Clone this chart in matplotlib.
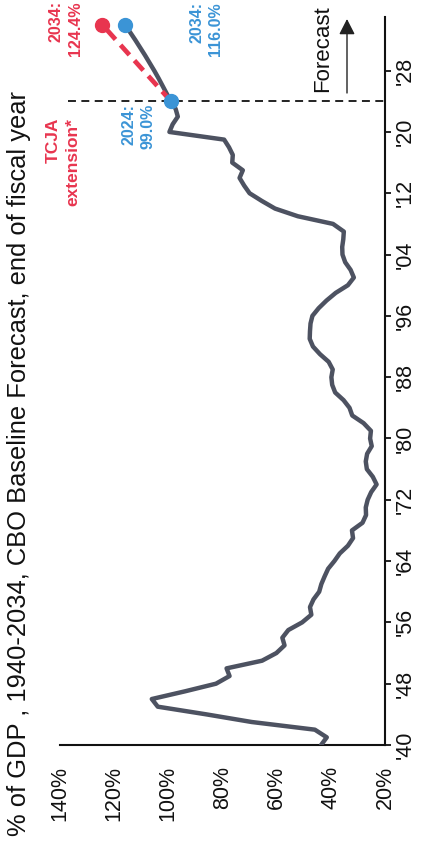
import matplotlib
matplotlib.use("Agg")
import matplotlib.pyplot as plt

# Federal debt held by the public, % of GDP, end of fiscal year
years = list(range(1940, 2025))
debt = [43.6, 41.5, 45.9, 69.2, 86.0, 103.9, 106.1, 93.9, 82.4, 77.4,
        78.5, 65.4, 60.1, 57.1, 57.9, 55.7, 50.6, 47.2, 47.7, 46.4,
        44.3, 43.5, 42.3, 41.0, 38.7, 36.7, 33.7, 31.8, 32.2, 28.3,
        27.0, 27.1, 26.4, 25.1, 23.1, 24.5, 26.7, 27.1, 26.6, 24.9,
        25.5, 25.2, 27.9, 32.1, 33.1, 35.3, 38.4, 39.5, 39.8, 39.3,
        40.8, 44.0, 46.6, 47.8, 47.7, 47.5, 46.8, 44.5, 41.6, 38.2,
        33.7, 31.5, 32.7, 34.7, 35.7, 35.8, 35.4, 35.2, 39.2, 52.2,
        60.6, 65.5, 70.0, 72.0, 73.7, 72.5, 76.4, 76.2, 77.6, 79.4,
        99.6, 98.4, 96.5, 97.3, 99.0]

# CBO baseline forecast
fc_years = list(range(2024, 2035))
fc_baseline = [99.0, 100.6, 102.1, 103.6, 105.2, 106.9, 108.6, 110.4, 112.2, 114.1, 116.0]

# TCJA extension scenario
tcja_years = [2024, 2034]
tcja_debt = [99.0, 124.4]

value_ticks = [140, 120, 100, 80, 60, 40, 20]
value_labels = ["140%", "120%", "100%", "80%", "60%", "40%", "20%"]
year_ticks = list(range(1940, 2029, 8))
year_labels = ["'40", "'48", "'56", "'64", "'72", "'80", "'88", "'96", "'04", "'12", "'20", "'28"]

title = "% of GDP , 1940-2034, CBO Baseline Forecast, end of fiscal year"

GRAY = "#4d5261"
RED = "#e8354f"
BLUE = "#3b94d6"

plt.rcParams["font.family"] = ["Liberation Sans", "DejaVu Sans"]

W, H = 428, 844
fig = plt.figure(figsize=(W / 100, H / 100), dpi=100)
fig.patch.set_facecolor("white")

# axes laid out sideways: value runs right-to-left, years run upward
ax_l, ax_r, ax_b, ax_t = 60, 385, 745, 17
ax = fig.add_axes([ax_l / W, 1 - ax_b / H, (ax_r - ax_l) / W, (ax_b - ax_t) / H])
ax.set_xlim(140, 20)
ax.set_ylim(1940, 2035)
ax.set_facecolor("none")


def vx(px):
    return 140 - (px - ax_l) * 120 / (ax_r - ax_l)


def yy(py):
    return 1940 + (ax_b - py) * 95 / (ax_b - ax_t)


for s in ("top", "left"):
    ax.spines[s].set_visible(False)
for s in ("right", "bottom"):
    ax.spines[s].set_linewidth(1.5)
    ax.spines[s].set_color("#111111")

ax.yaxis.tick_right()
ax.set_yticks(year_ticks)
ax.set_yticklabels(year_labels)
ax.tick_params(axis="y", direction="out", length=4, width=1.3, pad=3,
               labelsize=15.5, colors="#111111")
for lab in ax.get_yticklabels():
    lab.set_rotation(90)
    lab.set_va("center")

ax.set_xticks(value_ticks)
ax.set_xticklabels(value_labels)
ax.tick_params(axis="x", length=0, pad=15, labelsize=15.5, colors="#111111")
for lab in ax.get_xticklabels():
    lab.set_rotation(90)

# forecast boundary
ax.plot([vx(68), 20], [2024, 2024], color="#111111", lw=1.3,
        dashes=(4.4, 3.0), zorder=2, clip_on=False)

# history and baseline forecast
ax.plot(debt, years, color=GRAY, lw=3.2, solid_joinstyle="round",
        solid_capstyle="round", zorder=3)
ax.plot(fc_baseline, fc_years, color=GRAY, lw=3.2, solid_joinstyle="round",
        solid_capstyle="round", zorder=3)

# TCJA extension path
ax.plot(tcja_debt, tcja_years, color=RED, lw=3.4, dashes=(2.8, 1.6),
        dash_capstyle="butt", zorder=4)
ax.plot([tcja_debt[-1]], [tcja_years[-1]], "o", color=RED, ms=10, zorder=5, clip_on=False)
ax.plot([fc_baseline[-1]], [fc_years[-1]], "o", color=BLUE, ms=10, zorder=5, clip_on=False)
ax.plot([fc_baseline[0]], [fc_years[0]], "o", color=BLUE, ms=10, zorder=5, clip_on=False)

# annotations
ax.text(vx(46), yy(118), "TCJA\nextension*", color=RED, fontsize=12.5,
        fontweight="bold", rotation=90, ha="left", va="top",
        multialignment="right", linespacing=1.4)
ax.text(vx(122), yy(104), f"{fc_years[0]}:\n{fc_baseline[0]:.1f}%", color=BLUE,
        fontsize=11.5, fontweight="bold", rotation=90, ha="left", va="top",
        multialignment="right", linespacing=1.3)
ax.text(vx(49), yy(1), f"{tcja_years[-1]}:\n{tcja_debt[-1]:.1f}%", color=RED,
        fontsize=11.5, fontweight="bold", rotation=90, ha="left", va="top",
        multialignment="right", linespacing=1.3)
ax.text(vx(189), yy(2), f"{fc_years[-1]}:\n{fc_baseline[-1]:.1f}%", color=BLUE,
        fontsize=11.5, fontweight="bold", rotation=90, ha="left", va="top",
        multialignment="right", linespacing=1.3)

ax.text(vx(323), yy(92), "Forecast", color="#111111", fontsize=16,
        rotation=90, ha="center", va="bottom")
ax.annotate("", xy=(vx(347), yy(19)), xytext=(vx(347), yy(93)),
            arrowprops=dict(arrowstyle="-|>,head_length=0.47,head_width=0.24",
                            mutation_scale=20, lw=1.0, color="#222222",
                            shrinkA=0, shrinkB=0))

fig.text(7 / W, 8 / H, title, rotation=90, ha="left", va="bottom",
         fontsize=18.4, color="#111111")

fig.savefig("out.png", dpi=100, facecolor="white")
